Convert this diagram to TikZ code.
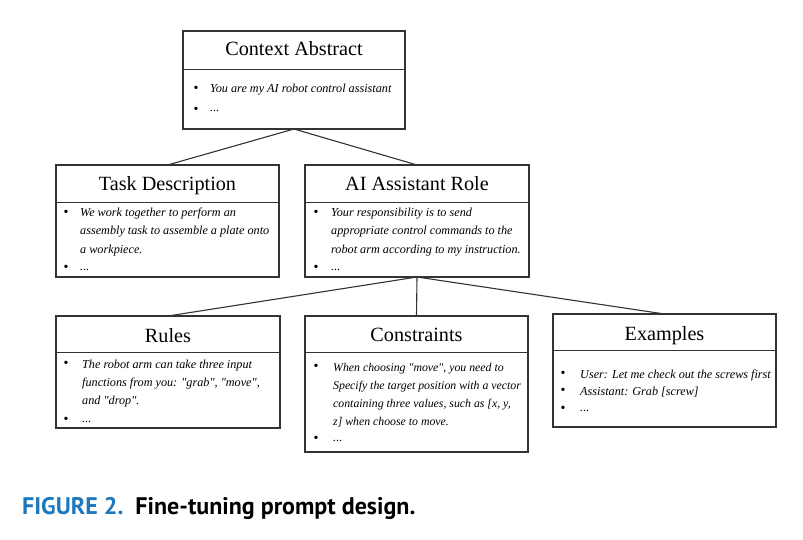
\documentclass[tikz,border=0pt]{standalone}
\usepackage{fontspec}
\setmainfont{Liberation Serif}[Ligatures=TeXOff]
\newfontfamily\capfont{PT Sans}
\usetikzlibrary{calc}
\definecolor{boxc}{HTML}{333333}
\definecolor{figblue}{HTML}{1E78BE}
\begin{document}
\begin{tikzpicture}[x=1pt,y=-1pt,
  box/.style={draw=boxc, line width=1.1pt, anchor=north west, inner sep=0pt, outer sep=0pt, fill=white},
  ttl/.style={font=\fontsize{20.2}{22}\selectfont, anchor=base, inner sep=0pt, text=black},
  bodyt/.style={font=\fontsize{12.2}{18}\selectfont\itshape, align=left, anchor=base west, inner sep=0pt, text=black},
  bul/.style={font=\fontsize{14}{18}\selectfont, inner sep=0pt, anchor=center},
  conn/.style={draw=boxc, line width=1.1pt},
  divl/.style={draw=boxc, line width=1pt}]
\useasboundingbox (0,0) rectangle (803,540);
\fill[white] (0,0) rectangle (803,540);

% boxes
\node[box, minimum width=222pt, minimum height=98pt] (ctx) at (183,31) {};
\node[box, minimum width=223pt, minimum height=112pt] (task) at (56,165) {};
\node[box, minimum width=224pt, minimum height=112pt] (ai) at (305,165) {};
\node[box, minimum width=224pt, minimum height=112pt] (rules) at (56,316) {};
\node[box, minimum width=223pt, minimum height=136pt] (cons) at (305,316) {};
\node[box, minimum width=223pt, minimum height=113pt] (ex) at (553,314) {};

% dividers
\draw[divl] (ctx.west |- 0,70) -- (ctx.east |- 0,70);
\draw[divl] (task.west |- 0,203) -- (task.east |- 0,203);
\draw[divl] (ai.west |- 0,203) -- (ai.east |- 0,203);
\draw[divl] (rules.west |- 0,352) -- (rules.east |- 0,352);
\draw[divl] (cons.west |- 0,352) -- (cons.east |- 0,352);
\draw[divl] (ex.west |- 0,350) -- (ex.east |- 0,350);

% connectors
\draw[conn] (ctx.south) -- (task.north);
\draw[conn] (ctx.south) -- (ai.north);
\draw[conn] (ai.south) -- (rules.north);
\draw[conn] (ai.south) -- (cons.north);
\draw[conn] (ai.south) -- (ex.north);

% titles
\node[ttl] (ctxt) at (294,56) {Context Abstract};
\node[ttl] (taskt) at (167.5,191) {Task Description};
\node[ttl] (ait) at (417,191) {AI Assistant Role};
\node[ttl] (rulest) at (168,342) {Rules};
\node[ttl] (const) at (416.5,341) {Constraints};
\node[ttl] (ext) at (664.5,340) {Examples};

% Context body
\node[bul] (cb1) at (196,89) {•};
\node[bodyt] (ctx1) at (210,93) {You are my AI robot control assistant};
\node[bul] (cb2) at (196,110) {•};
\node[bodyt] (ctx2) at (210,112) {...};

% Task body (base = last line)
\node[bul] (tb1) at (66,213) {•};
\node[bodyt] (task1) at (80,253) {We work together to perform an\\assembly task to assemble a plate onto\\a workpiece.};
\node[bul] (tb2) at (66,268) {•};
\node[bodyt] (task2) at (80,270) {...};

% AI body
\node[bul] (ab1) at (316,213) {•};
\node[bodyt] (ai1) at (331,253) {Your responsibility is to send\\appropriate control commands to the\\robot arm according to my instruction.};
\node[bul] (ab2) at (316,268) {•};
\node[bodyt] (ai2) at (331,270) {...};

% Rules body
\node[bul] (rb1) at (66,364) {•};
\node[bodyt] (r1) at (82,404) {The robot arm can take three input\\functions from you: "grab", "move",\\and "drop".};
\node[bul] (rb2) at (66,420) {•};
\node[bodyt] (r2) at (82,422) {...};

% Constraints body
\node[bul] (kb1) at (316,367) {•};
\node[bodyt, font=\fontsize{11.8}{18}\selectfont\itshape] (k1) at (333,425) {When choosing "move", you need to\\Specify the target position with a vector\\containing three values, such as [x, y,\\z] when choose to move.};
\node[bul] (kb2) at (316,439) {•};
\node[bodyt] (k2) at (333,441) {...};

% Examples body
\node[bul] (eb1) at (563,374) {•};
\node[bodyt] (e1) at (580,378) {User: Let me check out the screws first};
\node[bul] (eb2) at (563,391) {•};
\node[bodyt] (e2) at (580,395) {Assistant: Grab [screw]};
\node[bul] (eb3) at (563,409) {•};
\node[bodyt] (e3) at (580,411) {...};

% caption
\node[anchor=base west, inner sep=0pt, font=\capfont\bfseries\fontsize{24}{26}\selectfont] (cap) at (22,514)
  {{\color{figblue}FIGURE 2.}\hspace{12pt}Fine-tuning prompt design.};
\end{tikzpicture}
\end{document}
